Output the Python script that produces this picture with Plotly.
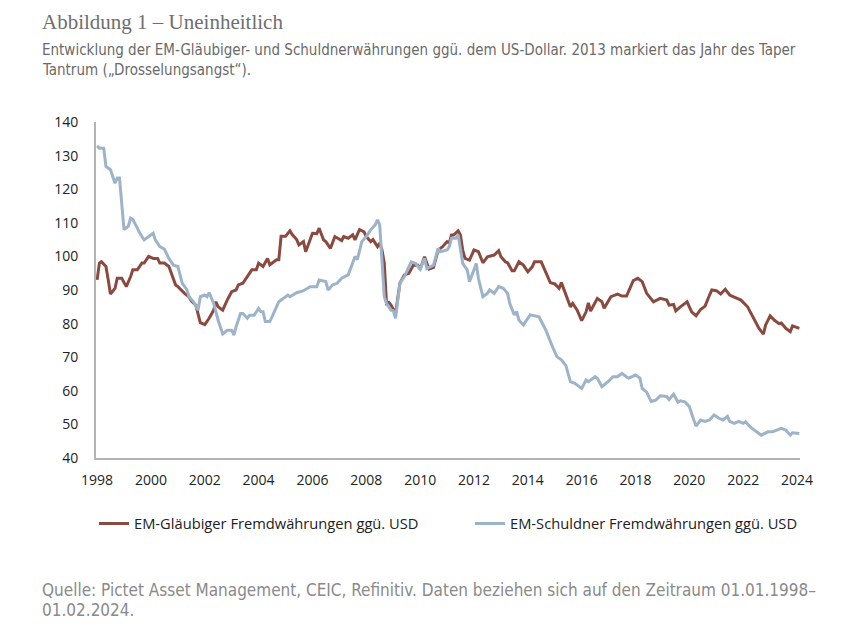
import plotly.graph_objects as go

# ---- data ----
creditor_dates = ["1998-01","1998-02","1998-03","1998-05","1998-06","1998-07","1998-09","1998-10","1998-12",
"1999-02","1999-04","1999-05","1999-07","1999-09","1999-10","1999-12",
"2000-02","2000-04","2000-05","2000-07","2000-09","2000-10","2000-12",
"2001-01","2001-03","2001-04","2001-06","2001-07","2001-09","2001-10","2001-11",
"2002-01","2002-03","2002-05","2002-06","2002-07","2002-09","2002-11",
"2003-01","2003-03","2003-04","2003-06","2003-08","2003-10","2003-12",
"2004-01","2004-03","2004-04","2004-05","2004-06","2004-07","2004-09","2004-10","2004-11",
"2005-01","2005-03","2005-04","2005-06","2005-07","2005-09","2005-10",
"2006-01","2006-03","2006-04","2006-06","2006-07","2006-09","2006-11",
"2007-02","2007-03","2007-05","2007-07","2007-08","2007-10","2007-12",
"2008-01","2008-03","2008-04","2008-06","2008-07","2008-08","2008-09","2008-10","2008-11","2008-12",
"2009-02","2009-04","2009-06","2009-08","2009-10","2009-12",
"2010-01","2010-03","2010-05","2010-07","2010-09","2010-11",
"2011-01","2011-02","2011-03","2011-04","2011-06","2011-07","2011-08","2011-09","2011-11",
"2012-01","2012-03","2012-05","2012-07","2012-10","2012-12",
"2013-01","2013-03","2013-04","2013-06","2013-07","2013-09","2013-11",
"2014-01","2014-03","2014-04","2014-07","2014-09","2014-11",
"2015-01","2015-03","2015-04","2015-06","2015-08","2015-09","2015-11",
"2016-01","2016-03","2016-04","2016-05","2016-06","2016-08","2016-10","2016-11",
"2017-02","2017-03","2017-05","2017-07","2017-09","2017-12",
"2018-02","2018-04","2018-06","2018-09","2018-12",
"2019-03","2019-04","2019-06","2019-07","2019-09","2019-12",
"2020-02","2020-04","2020-06","2020-08","2020-10","2020-11",
"2021-01","2021-03","2021-05","2021-07","2021-08","2021-10","2021-12",
"2022-03","2022-05","2022-06","2022-08","2022-10","2022-11",
"2023-01","2023-03","2023-05","2023-06","2023-08","2023-10","2023-11","2024-02"]
creditor_values = [93,98,98.4,97,93,88.8,90.5,93.5,93.5,
91,94,96,96,98,98,100,
99.4,99.4,98,98,97,95,91.5,
91,89.5,89,88,86.8,85.5,83,80.3,
79.7,81.6,84,86.5,85,84,87,
89.5,90,91.5,92,94,96,96,
98,97,98.4,99.4,97.5,98,99,99,106,
106,107.6,106.5,105,103.4,104.4,101.4,
106.9,106.8,108.4,104.9,104.4,102.4,105.9,
104.7,105.9,105.4,106.4,104.9,108,107.3,
105.9,104.4,105,102.9,104,101.9,98,86,86.3,85.5,
83,92,94.5,95,97.4,97.4,
96.2,99.9,96.2,96.7,101.9,102.9,
104.4,104,106.4,106.4,107.6,106.4,101.9,99.4,98.9,
101.9,101.4,98.1,99.9,100.4,101.7,
99.9,98.4,98.1,95.7,95.7,98.4,97.4,
95.4,96.9,98.4,98.4,95.4,92.2,
91.8,90.5,92.2,88.5,85,86,84,
80.9,83.5,86.2,83.7,85,87.5,86.5,84.6,
88,88.2,88.8,88.2,88.2,92.8,
93.5,92.5,89,86.5,87.5,
87,85.5,85.7,83.8,85,86.5,
83.5,82.3,84.2,85.2,88.5,90,
89.8,88.8,90.2,88.5,88.2,87.7,87,
85,82.5,81,78.6,76.9,79.6,
82.3,81,80,80.2,78.6,77.6,79.3,78.6]

debtor_dates = ["1998-01","1998-02","1998-04","1998-05","1998-07","1998-09","1998-10","1998-11",
"1999-01","1999-03","1999-04","1999-05","1999-07","1999-08","1999-10","1999-12",
"2000-02","2000-03","2000-05","2000-07","2000-09","2000-11",
"2001-01","2001-03","2001-05","2001-06","2001-08","2001-10","2001-11",
"2002-01","2002-02","2002-03","2002-05","2002-07","2002-09","2002-11",
"2003-01","2003-02","2003-03","2003-05","2003-06","2003-08","2003-09","2003-11",
"2004-01","2004-02","2004-03","2004-04","2004-06","2004-07","2004-10",
"2005-02","2005-03","2005-06","2005-09","2005-12",
"2006-03","2006-04","2006-07","2006-08","2006-10","2006-12",
"2007-02","2007-05","2007-06","2007-08","2007-09","2007-11",
"2008-01","2008-03","2008-05","2008-06","2008-07","2008-08","2008-09","2008-10","2008-12",
"2009-01","2009-02","2009-04","2009-06","2009-09","2009-11",
"2010-01","2010-03","2010-04","2010-07","2010-09","2010-10",
"2011-01","2011-02","2011-03","2011-05","2011-06","2011-07","2011-08","2011-10","2011-11",
"2012-01","2012-02","2012-03","2012-05","2012-07","2012-08","2012-10","2012-12",
"2013-02","2013-04","2013-05","2013-07","2013-08","2013-09","2013-11",
"2014-02","2014-06","2014-09","2014-12",
"2015-02","2015-04","2015-06","2015-08","2015-10",
"2016-01","2016-03","2016-04","2016-07","2016-08","2016-10",
"2017-01","2017-03","2017-05","2017-07","2017-09","2017-10",
"2018-01","2018-03","2018-04","2018-06","2018-08","2018-10","2018-12",
"2019-03","2019-04","2019-06","2019-08","2019-09","2019-11",
"2020-01","2020-03","2020-04","2020-06","2020-08","2020-10","2020-12",
"2021-02","2021-04","2021-06","2021-07","2021-09","2021-11",
"2022-01","2022-02","2022-04","2022-07","2022-09","2022-12",
"2023-02","2023-04","2023-06","2023-08","2023-10","2023-11","2024-02"]
debtor_values = [132.9,132.2,132.2,126.8,125.8,121.8,123.3,123.3,
108,109,111.4,111,108.4,107,104.9,105.9,
106.9,104.9,102.9,102.2,99.4,97.4,
97,92,90.2,88,86.5,84,88,
88.5,88,89.2,86,81,76.9,78,
78,76.6,79,83,83,81.6,82.5,82.5,
84.5,83.5,83.5,80.6,80.6,82,86.5,
88.5,88,89.2,89.8,91,
91,93,92.5,90,91.5,92,
93.5,94.5,96.5,100,99,104.4,
105.9,107.9,109.4,110.9,109.4,100,88,86,84,
83.8,81.6,92,94,98.4,97.9,
96.2,99.4,96.4,97.4,102.4,101.4,
101.9,102.9,105.4,105.4,106.4,101.9,97.9,96,92.5,
96,97.9,93.5,88,89,90,89,91,
90.5,89,86,82.6,83.6,81.1,79.6,
82.6,82,78.1,73.1,
70.1,69.2,67.5,62.7,62.2,
60.7,63.2,62.7,64.2,63.7,61.2,
62.9,64.2,64.2,65.2,64.1,63.8,
64.7,63.8,60.7,59.6,56.8,57.2,58.5,
58.3,57.4,59,56.6,57,56.7,
55.3,51.3,49.5,51.3,50.9,51.3,52.8,
51.9,51.3,52.4,50.9,50.3,50.9,
50.3,50.8,49.3,47.8,46.8,47.8,
47.8,48.3,48.8,48.3,46.8,47.5,47.3]

series_names = ["EM-Gläubiger Fremdwährungen ggü. USD", "EM-Schuldner Fremdwährungen ggü. USD"]
tick_years = [str(y) for y in range(1998, 2025, 2)]
y_ticks = list(range(40, 141, 10))

title_text = "Abbildung 1 – Uneinheitlich"
subtitle_lines = ["Entwicklung der EM-Gläubiger- und Schuldnerwährungen ggü. dem US-Dollar. 2013 markiert das Jahr des Taper",
                  "Tantrum („Drosselungsangst“)."]
source_lines = ["Quelle: Pictet Asset Management, CEIC, Refinitiv. Daten beziehen sich auf den Zeitraum 01.01.1998–",
                "01.02.2024."]

# ---- figure (page body has an 8px margin, so the figure is 848x628) ----
W, H = 848, 628
L, R, T, B = 88, 56, 114, 178
pw, ph = W - L - R, H - T - B

def px(x):  # reference-picture x -> paper
    return (x - 8 - L) / pw

def py(y):  # reference-picture y -> paper
    return (H - B - (y - 8)) / ph

COND = "Liberation Sans Narrow, DejaVu Sans Condensed, Noto Sans"
fig = go.Figure()
fig.add_trace(go.Scatter(x=creditor_dates, y=creditor_values, mode="lines", name=series_names[0],
                         line=dict(color="#8a4a3f", width=3)))
fig.add_trace(go.Scatter(x=debtor_dates, y=debtor_values, mode="lines", name=series_names[1],
                         line=dict(color="#9db3ca", width=3)))

fig.update_layout(
    width=W, height=H, margin=dict(l=L, r=R, t=T, b=B),
    paper_bgcolor="white", plot_bgcolor="white",
    showlegend=True,
    legend=dict(orientation="h", x=px(94), xanchor="left", y=py(524), yanchor="middle",
                font=dict(family="Open Sans", size=14.7, color="#222"),
                entrywidth=331, entrywidthmode="pixels", bgcolor="rgba(0,0,0,0)"),
    xaxis=dict(type="date", range=["1997-12-17", "2024-02-10"],
               tickvals=[f"{y}-01-01" for y in tick_years], ticktext=tick_years,
               showgrid=False, showline=True, linecolor="#b3b3b3", linewidth=2,
               ticks="outside", ticklen=8, tickcolor="rgba(0,0,0,0)",
               tickfont=dict(family="Open Sans", size=14, color="#222"), zeroline=False),
    yaxis=dict(range=[40, 140], tickvals=y_ticks, showgrid=False, showline=True,
               linecolor="#b3b3b3", linewidth=2,
               ticks="outside", ticklen=13, tickcolor="rgba(0,0,0,0)",
               tickfont=dict(family="Open Sans", size=14, color="#222"), zeroline=False),
)

ann = [
    dict(text=title_text, x=px(40), y=py(22), font=dict(family="Liberation Serif", size=21, color="#6e6e6e")),
    dict(text=subtitle_lines[0], x=px(40), y=py(50), font=dict(family=COND, size=15, color="#6a6a6a")),
    dict(text=subtitle_lines[1], x=px(40), y=py(70), font=dict(family=COND, size=15, color="#6a6a6a")),
    dict(text=source_lines[0], x=px(40), y=py(590), font=dict(family=COND, size=17, color="#8a8a8a")),
    dict(text=source_lines[1], x=px(40), y=py(610), font=dict(family=COND, size=17, color="#8a8a8a")),
]
for a in ann:
    fig.add_annotation(xref="paper", yref="paper", xanchor="left", yanchor="middle",
                       showarrow=False, align="left", **a)

fig.write_html("out.html")
